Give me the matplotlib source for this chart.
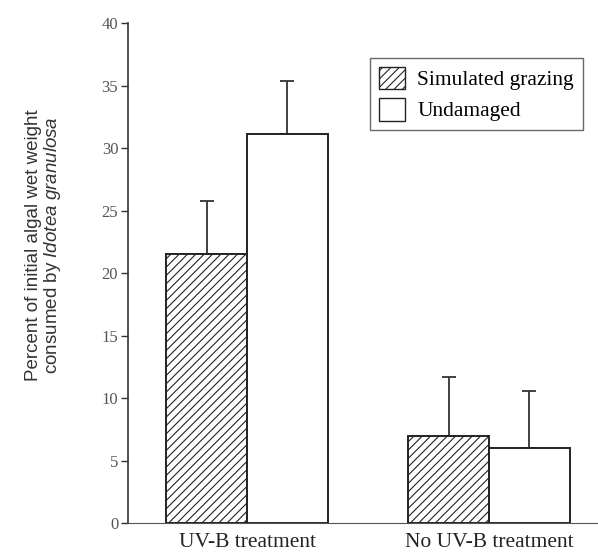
import numpy as np
import matplotlib
matplotlib.use("Agg")
import matplotlib.pyplot as plt
from matplotlib.patches import Patch

plt.rcParams["font.family"] = ["Liberation Serif", "DejaVu Serif"]
plt.rcParams["mathtext.fontset"] = "custom"
plt.rcParams["mathtext.it"] = "Liberation Sans:italic"
plt.rcParams["mathtext.rm"] = "Liberation Sans"
plt.rcParams["hatch.color"] = "#a8a8a8"
plt.rcParams["hatch.linewidth"] = 0.8

groups = ["UV-B treatment", "No UV-B treatment"]
series = ["Simulated grazing", "Undamaged"]
grazed = [21.5, 7.0]
grazed_err = [4.3, 4.7]
undamaged = [31.1, 6.0]
undamaged_err = [4.3, 4.6]

fig = plt.figure(figsize=(5.98, 5.53), dpi=100)
ax = fig.add_axes([0.214, 0.054, 0.786, 0.904])

x = np.arange(len(groups))
w = 0.333
ax.bar(x - w / 2, grazed, w, color="white", edgecolor="#222222", linewidth=1.4,
       hatch="////", label=series[0], zorder=2)
ax.bar(x + w / 2, undamaged, w, color="white", edgecolor="#222222", linewidth=1.4,
       label=series[1], zorder=2)
ax.errorbar(x - w / 2, grazed, yerr=[np.zeros(2), grazed_err], fmt="none",
            ecolor="#333333", elinewidth=1.3, capsize=5, capthick=1.3, zorder=1)
ax.errorbar(x + w / 2, undamaged, yerr=[np.zeros(2), undamaged_err], fmt="none",
            ecolor="#333333", elinewidth=1.3, capsize=5, capthick=1.3, zorder=1)

ax.set_xlim(-0.492, 1.45)
ax.set_ylim(0, 40)
ax.set_yticks(range(0, 41, 5))
ax.set_xticks(x)
ax.set_xticklabels(groups, fontsize=15.5, color="#222222")
ax.tick_params(axis="x", length=0, pad=7)
ax.tick_params(axis="y", length=5, width=1, labelsize=12, labelcolor="#555555",
               color="#333333", pad=2)
for s in ["top", "right"]:
    ax.spines[s].set_visible(False)
ax.spines["left"].set_color("#333333")
ax.spines["bottom"].set_color("#555555")
ax.spines["left"].set_linewidth(1.2)

ax.set_ylabel("Percent of initial algal wet weight\nconsumed by $\\it{Idotea\\ granulosa}$",
              fontsize=13.5, color="#333333", linespacing=1.0, family="Liberation Sans")
ax.yaxis.set_label_coords(-0.138, 0.556)

handles = [Patch(facecolor="white", edgecolor="#222222", hatch="////", label=series[0]),
           Patch(facecolor="white", edgecolor="#222222", label=series[1])]
leg = ax.legend(handles=handles, loc="upper right", bbox_to_anchor=(0.99, 0.952),
                fontsize=15.5, frameon=True, fancybox=False, edgecolor="#444444",
                handlelength=1.25, handleheight=1.25, borderpad=0.4, labelspacing=0.35,
                handletextpad=0.55)
leg.get_frame().set_linewidth(1.0)

fig.savefig("out.png", dpi=100)
